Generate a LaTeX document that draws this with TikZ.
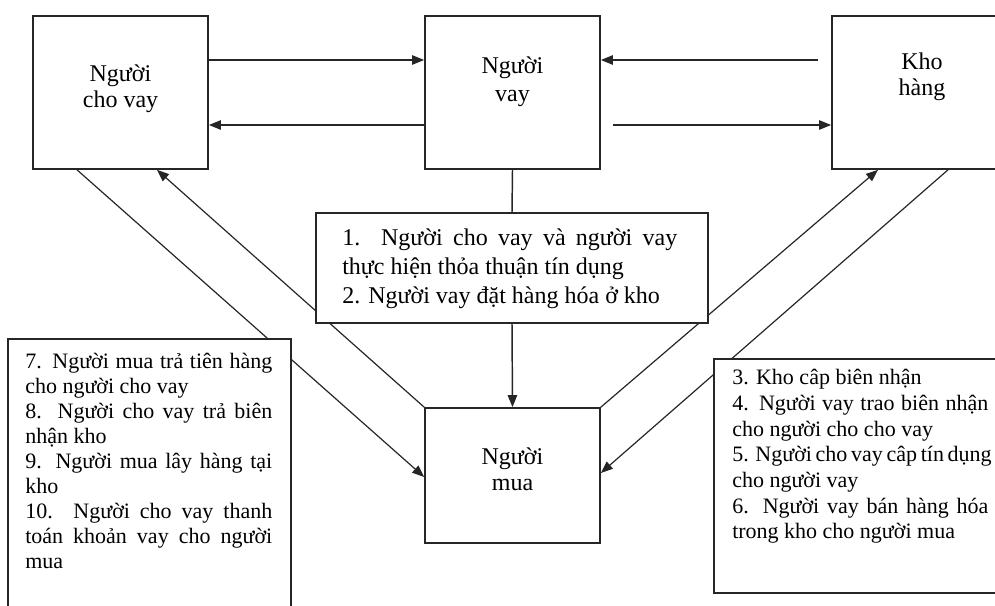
\documentclass[tikz,border=0pt]{standalone}
\usepackage{fontspec}
\setmainfont{Liberation Serif}
\usetikzlibrary{arrows.meta}
\pgfdeclarelayer{bg}
\pgfsetlayers{bg,main}
\begin{document}
\begin{tikzpicture}[x=0.75pt,y=-0.75pt,
  box/.style={draw=black!85, line width=1.25pt, fill=white, inner sep=0pt, rectangle},
  smallbox/.style={box, minimum width=131.25pt, minimum height=114.75pt},
  lbl/.style={font=\fontsize{18pt}{19.5pt}\selectfont, align=center, inner sep=0pt},
  txtD/.style={font=\fontsize{18pt}{21.8pt}\selectfont, align=left, inner sep=0pt, anchor=west},
  txtS/.style={font=\fontsize{16.5pt}{19pt}\selectfont, align=left, inner sep=0pt, anchor=west},
  harr/.style={draw=black!85, line width=1.1pt, -{Triangle[length=9pt,width=7pt]}},
  plain/.style={draw=black!85, line width=1.1pt},
  darr/.style={draw=black!85, line width=0.9pt, -{Triangle[length=9pt,width=7pt]}}
]
\useasboundingbox (0,0) rectangle (995,606);
\clip (0,0) rectangle (995,606);

% main boxes
\node[smallbox] (A) at (120.5,92.5) {};
\node[smallbox] (B) at (512.5,92.5) {};
\node[smallbox] (C) at (919.5,92.5) {};
\node[box, minimum width=294pt, minimum height=82.5pt] (D) at (512,268) {};
\node[box, minimum width=131.25pt, minimum height=101.25pt] (E) at (512.5,475.5) {};
\node[box, minimum width=212.25pt, minimum height=207pt] (F) at (149.5,477) {};
\node[box, minimum width=222pt, minimum height=175.5pt] (G) at (862,476) {};

% labels
\node[lbl] (LA) at (120.5,89) {Người\\cho vay};
\node[lbl, font=\fontsize{18pt}{21pt}\selectfont] (LB) at (512.5,81.5) {Người\\vay};
\node[lbl] (LC) at (922,77) {Kho\\hàng};
\node[lbl] (LE) at (512.5,469) {Người\\mua};

\node[txtD] (TD) at (342,269) {\makebox[251.25pt][s]{1. Người cho vay và người vay}\\
thực hiện thỏa thuận tín dụng\\
2. Người vay đặt hàng hóa ở kho};

\node[txtS, font=\fontsize{16.5pt}{18.75pt}\selectfont] (TF) at (25,460.5) {\makebox[185.25pt][s]{7. Người mua trả tiên hàng}\\
cho người cho vay\\
\makebox[185.25pt][s]{8. Người cho vay trả biên}\\
nhận kho\\
\makebox[185.25pt][s]{9. Người mua lây hàng tại}\\
kho\\
\makebox[185.25pt][s]{10. Người cho vay thanh}\\
\makebox[185.25pt][s]{toán khoản vay cho người}\\
mua};

\node[txtS, font=\fontsize{16.5pt}{19.25pt}\selectfont] (TG) at (732,456.5) {3. Kho câp biên nhận\\
\makebox[192pt][s]{4. Người vay trao biên nhận}\\
cho người cho cho vay\\
\makebox[192pt][s]{5. Người cho vay câp tín dụng}\\
cho người vay\\
\makebox[192pt][s]{6. Người vay bán hàng hóa}\\
trong kho cho người mua};

\coordinate (c1) at (818,60);
\coordinate (b1) at (613,125);

\begin{pgfonlayer}{bg}
\draw[harr] (A.east |- 0,60) -- (B.west |- 0,60);
\draw[harr] (B.west |- 0,125) -- (A.east |- 0,125);
\draw[harr] (c1) -- (B.east |- 0,60);
\draw[harr] (b1) -- (C.west |- 0,125);
\draw[plain] (B.south) -- (D.north);
\draw[harr] (D.south) -- (E.north);
\draw[darr] (A.south -| 77,0) -- (E.west |- 0,477);
\draw[darr] (E.north west) -- (A.south -| 157,0);
\draw[darr] (E.north east) -- (C.south -| 878,0);
\draw[darr] (C.south -| 948,0) -- (E.east |- 0,473);
\end{pgfonlayer}
\end{tikzpicture}
\end{document}
